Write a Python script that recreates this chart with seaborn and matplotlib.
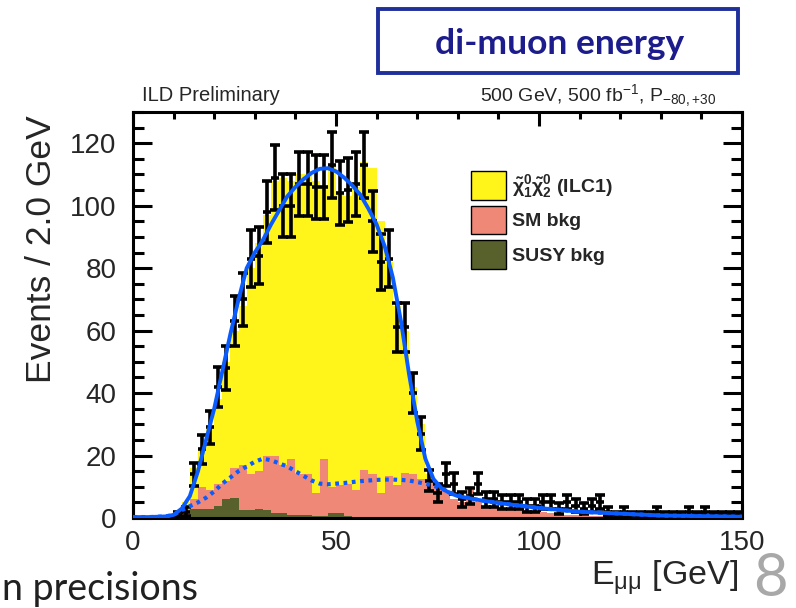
import numpy as np
import pandas as pd
import matplotlib
matplotlib.use("Agg")
import matplotlib.pyplot as plt
import seaborn as sns
from matplotlib.patches import Patch, Rectangle
from matplotlib.ticker import MultipleLocator

# ---------------- data (2 GeV bins, centres 1..149 GeV) ----------------
bin_centers = np.arange(1, 150, 2)

data_counts = [0, 0, 0, 0, 0, 1, 2, 14, 22, 29,
               42, 48, 63, 70, 83, 84, 98, 109, 100, 100,
               107, 107, 106, 106, 113, 104, 105, 107, 113, 95,
               82, 83, 61, 61, 40, 27, 12, 8, 14, 11,
               6, 7, 11, 6, 6, 5, 5, 5, 4, 4,
               5, 5, 3, 5, 4, 3, 4, 5, 2, 1,
               2, 1, 1, 1, 2, 1, 1, 1, 2, 1,
               2, 1, 1, 1, 1]

signal = [0, 0, 0, 0, 0, 0, 2, 10, 12, 20,
          27, 38, 44, 51, 66, 73, 77, 88, 92, 89,
          96, 96, 100, 87, 103, 93.5, 92, 97, 98.5, 98,
          87, 68.5, 57.5, 45.5, 28, 17.5, 1.5, 0, 0, 0,
          0, 0, 0, 0, 0, 0, 0, 0, 0, 0,
          0, 0, 0, 0, 0, 0, 0, 0, 0, 0,
          0, 0, 0, 0, 0, 0, 0, 0, 0, 0,
          0, 0, 0, 0, 0]

sm_bkg = [0, 0, 0, 0, 0, 0.5, 2, 3, 7, 6,
          7, 6, 9.5, 14.5, 11.5, 12, 17.5, 18.5, 15.5, 18,
          13, 13, 7.5, 18.5, 8.5, 9, 10.5, 9, 15.5, 14,
          8, 13.5, 10.5, 14.5, 14, 12.5, 12.5, 11, 9, 6,
          5, 9, 5, 4, 3.5, 3, 3, 2.5, 2.5, 2,
          2, 1.5, 1.5, 1, 1, 0.5, 0.5, 0.5, 1, 0,
          0, 0, 0, 0, 0, 0, 0, 0, 0, 0,
          0, 0, 0, 0, 0]

susy_bkg = [0, 0, 0, 0, 0, 0, 1, 3, 3, 3,
            4, 6, 6.5, 2.5, 2.5, 3, 2.5, 1.5, 1.5, 1,
            1, 1, 0.5, 0.5, 1.5, 1.5, 0.5, 0, 0, 0,
            0, 0, 0, 0, 0, 0, 0, 0, 0, 0,
            0, 0, 0, 0, 0, 0, 0, 0, 0, 0,
            0, 0, 0, 0, 0, 0, 0, 0, 0, 0,
            0, 0, 0, 0, 0, 0, 0, 0, 0, 0,
            0, 0, 0, 0, 0]

fit_x = [0, 4, 8, 10, 12, 14, 16, 18, 20, 22, 24, 26, 28, 30, 32, 34, 36, 38, 40,
         42, 44, 46, 48, 50, 52, 54, 56, 58, 60, 62, 64, 66, 68, 70, 72, 74, 76,
         78, 80, 85, 90, 95, 100, 105, 110, 115, 120, 125, 130, 135, 140, 145, 150]
fit_total = [0.3, 0.3, 0.5, 1, 3, 7, 15, 25, 35, 47, 59, 70, 80, 85, 89, 94, 98.5, 103, 106,
             108.5, 110.5, 111.8, 112, 111, 109, 106.5, 103.5, 99, 94, 87, 77, 63, 46, 31, 19, 12.5, 9.5,
             8, 7, 5.8, 4.8, 4, 3.2, 2.6, 2.0, 1.7, 1.4, 1.1, 0.8, 0.7, 0.6, 0.5, 0.4]
fit_bkg = [0.3, 0.3, 0.5, 1, 2.5, 3.8, 5, 6.5, 8.5, 11, 13, 15, 16.5, 18, 19, 18.5, 17.5, 16.5, 15,
           13.5, 12, 11, 10.8, 11, 11.2, 11.5, 11.8, 12, 12.2, 12.3, 12.3, 12.2, 12, 11.5, 11, 10.3, 9.5,
           8.2, 7.2, 5.8, 4.8, 4, 3.2, 2.6, 2.0, 1.7, 1.4, 1.1, 0.8, 0.7, 0.6, 0.5, 0.4]

legend_labels = [r"$\tilde{\chi}^{0}_{1}\tilde{\chi}^{0}_{2}$ (ILC1)", "SM bkg", "SUSY bkg"]

# ---------------- style ----------------
sns.set_theme(style="white")
plt.rcParams['font.family'] = ['Liberation Sans', 'DejaVu Sans']
plt.rcParams['mathtext.fontset'] = 'custom'
plt.rcParams['mathtext.rm'] = 'Liberation Sans'
plt.rcParams['mathtext.it'] = 'Liberation Sans:italic'
plt.rcParams['mathtext.bf'] = 'Liberation Sans:bold'
plt.rcParams['mathtext.default'] = 'regular'

c_sig = "#fff51a"
c_sm = "#f08878"
c_susy = "#58602c"
c_fit = "#0a5cff"

fig = plt.figure(figsize=(7.96, 6.08), dpi=100)
ax = fig.add_axes([133 / 796, 90 / 608, 609 / 796, 406 / 608])

df = pd.DataFrame({
    "E": np.tile(bin_centers, 3).astype(float),
    "count": np.concatenate([signal, sm_bkg, susy_bkg]).astype(float),
    "comp": np.repeat(["signal", "sm", "susy"], len(bin_centers)),
})
sns.histplot(data=df, x="E", weights="count", hue="comp",
             hue_order=["signal", "sm", "susy"], multiple="stack",
             binwidth=2, binrange=(0, 150), element="step", fill=True, alpha=1, linewidth=0,
             palette={"signal": c_sig, "sm": c_sm, "susy": c_susy},
             legend=False, ax=ax)

# data points
dc = np.array(data_counts, dtype=float)
m = dc > 0
ax.errorbar(bin_centers[m], dc[m], yerr=np.sqrt(dc[m]), fmt="none", ecolor="black",
            elinewidth=2.6, capsize=3.6, capthick=2.6, zorder=4)
ax.errorbar(bin_centers[m], dc[m], xerr=1.0, fmt="none", ecolor="black",
            elinewidth=2.6, capsize=0, zorder=4)

# fits
sns.lineplot(x=fit_x, y=fit_bkg, ax=ax, color=c_fit, lw=3.0,
             linestyle=(0, (0.9, 1.1)), zorder=5)
sns.lineplot(x=fit_x, y=fit_total, ax=ax, color=c_fit, lw=2.8, zorder=6)

# axes
ax.set_xlim(0, 150)
ax.set_ylim(0, 130)
ax.set_xlabel("")
ax.set_ylabel("")
for s in ax.spines.values():
    s.set_visible(True)
    s.set_linewidth(2.2)
    s.set_color("black")
ax.xaxis.set_major_locator(MultipleLocator(50))
ax.xaxis.set_minor_locator(MultipleLocator(10))
ax.yaxis.set_major_locator(MultipleLocator(20))
ax.yaxis.set_minor_locator(MultipleLocator(5))
ax.tick_params(axis="both", which="both", direction="in", top=True, right=True,
               bottom=True, left=True, color="black", width=2.2)
ax.tick_params(axis="x", which="major", length=10, labelsize=20, pad=9)
ax.tick_params(axis="x", which="minor", length=5)
ax.tick_params(axis="y", which="major", length=14, labelsize=20, pad=12)
ax.tick_params(axis="y", which="minor", length=8)

fig.text(42 / 796, 1 - 249 / 608, "Events / 2.0 GeV", rotation=90, fontsize=25.5,
         ha="center", va="center")
fig.text(738 / 796, 1 - 586 / 608, r"E$_{\mu\mu}$ [GeV]", fontsize=24.5,
         ha="right", va="baseline")

fig.text(142 / 796, 1 - 101 / 608, "ILD Preliminary", fontsize=14.5,
         ha="left", va="baseline")
fig.text(716 / 796, 1 - 101 / 608, r"500 GeV, 500 fb$^{-1}$, P$_{-80,{+}30}$",
         fontsize=14, ha="right", va="baseline")

# legend
handles = [Patch(facecolor=c, edgecolor="black", linewidth=1.0)
           for c in (c_sig, c_sm, c_susy)]
leg = fig.legend(handles, legend_labels, loc="upper left",
                 bbox_to_anchor=(471 / 796, 1 - 171 / 608), frameon=False,
                 prop={"weight": "bold", "size": 14}, handlelength=1.8,
                 handleheight=1.9, handletextpad=0.3, labelspacing=0.3,
                 borderpad=0, borderaxespad=0)

# slide decorations
fig.patches.append(Rectangle((378 / 796, 1 - 73 / 608), (738 - 378) / 796, 64 / 608,
                             transform=fig.transFigure, fill=False,
                             edgecolor="#1f2f9c", linewidth=2.8))
fig.text(560 / 796, 1 - 44 / 608, "di-muon energy", fontsize=25.5, fontweight="bold",
         family=["Lato", "DejaVu Sans"], color="#1c1c8c", ha="center", va="center")
fig.text(2 / 796, 1 - 600 / 608, "n precisions", fontsize=27,
         family=["Lato", "DejaVu Sans"], color="#202020", ha="left", va="baseline")
fig.text(770 / 796, 2 / 608, "8", fontsize=43,
         family=["Lato", "DejaVu Sans"], color="#a8a8a8", ha="center", va="bottom")

fig.savefig("out.png", dpi=100)
